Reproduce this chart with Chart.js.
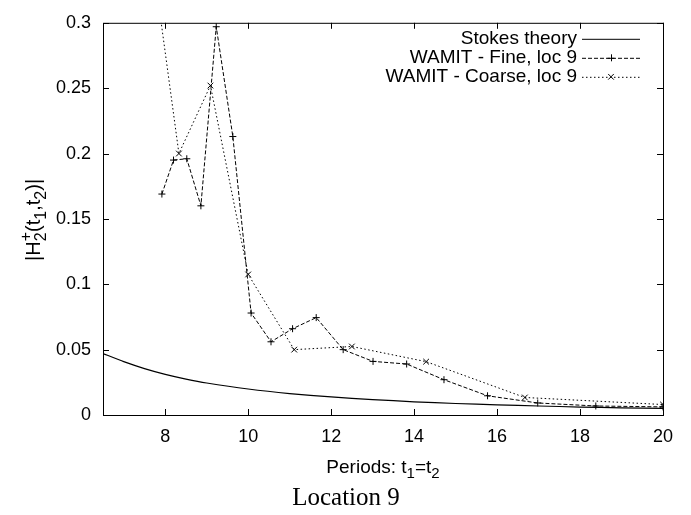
<!DOCTYPE html>
<html>
<head>
<meta charset="utf-8">
<script src="https://cdn.jsdelivr.net/npm/chart.js@4.4.1/dist/chart.umd.min.js"></script>
<style>
    body { margin: 0; background: #fff; }
    canvas { display: block; }
</style>
</head>
<body>
<canvas id="chart" width="691" height="515"></canvas>
<script>
// Tick labels
const xTicks = [8, 10, 12, 14, 16, 18, 20];
const yTicks = [0, 0.05, 0.1, 0.15, 0.2, 0.25, 0.3];

// Stokes theory
const stokesPeriods = [6.5, 7, 7.5, 8, 8.5, 9, 10, 11, 12, 13, 14, 15, 16, 17, 18, 19, 20];
const stokesValues = [0.047, 0.0408, 0.0355, 0.0311, 0.0275, 0.0245, 0.0199, 0.0164, 0.0138,
    0.0118, 0.0101, 0.0088, 0.0078, 0.0069, 0.0061, 0.0055, 0.0050];

// WAMIT - Fine, loc 9
const finePeriods = [7.92, 8.20, 8.52, 8.86, 9.23, 9.63, 10.07, 10.55, 11.07, 11.64, 12.29,
    13.01, 13.82, 14.72, 15.77, 16.98, 18.38, 20.0];
const fineValues = [0.169, 0.195, 0.196, 0.160, 0.297, 0.213, 0.078, 0.056, 0.066, 0.0745,
    0.050, 0.041, 0.039, 0.027, 0.0147, 0.0092, 0.0069, 0.0062];

// WAMIT - Coarse, loc 9
const coarsePeriods = [7.69, 8.33, 9.09, 10.0, 11.11, 12.5, 14.29, 16.67, 20.0];
const coarseValues = [0.35, 0.200, 0.252, 0.1075, 0.050, 0.0524, 0.0408, 0.0134, 0.008];

const sans = 'Liberation Sans, Arial, Helvetica, sans-serif';

function toPoints(xs, ys) {
    return xs.map((x, i) => ({ x: x, y: ys[i] }));
}

// Draw text made of normal / sub / sup pieces, centred on (0,0) of the current transform
function drawRich(ctx, parts, size, scriptScale) {
    const small = Math.round(size * scriptScale);
    const widths = parts.map(p => {
        if (p.kind === 'n') {
            ctx.font = size + 'px ' + sans;
            return ctx.measureText(p.t).width;
        }
        ctx.font = small + 'px ' + sans;
        return Math.max(ctx.measureText(p.t).width, p.sup ? ctx.measureText(p.sup).width : 0);
    });
    const total = widths.reduce((a, b) => a + b, 0);
    let x = -total / 2;
    ctx.textBaseline = 'alphabetic';
    ctx.textAlign = 'left';
    const base = size * 0.36;
    parts.forEach((p, i) => {
        if (p.kind === 'n') {
            ctx.font = size + 'px ' + sans;
            ctx.fillText(p.t, x, base);
        } else {
            ctx.font = small + 'px ' + sans;
            ctx.fillText(p.t, x, base + size * 0.28);
            if (p.sup) ctx.fillText(p.sup, x, base - size * 0.45);
        }
        x += widths[i];
    });
}

// Border box and inward ticks on all four sides, like gnuplot
const framePlugin = {
    id: 'frame',
    afterDatasetsDraw(chart) {
        const ctx = chart.ctx;
        const a = chart.chartArea;
        const xs = chart.scales.x;
        const ys = chart.scales.y;
        const len = 6;
        ctx.save();
        ctx.strokeStyle = '#000';
        ctx.lineWidth = 1;
        ctx.setLineDash([]);
        ctx.strokeRect(a.left + 0.5, a.top + 0.5, a.right - a.left, a.bottom - a.top);
        ctx.beginPath();
        xTicks.forEach(v => {
            const px = Math.round(xs.getPixelForValue(v)) + 0.5;
            ctx.moveTo(px, a.bottom);
            ctx.lineTo(px, a.bottom - len);
            ctx.moveTo(px, a.top);
            ctx.lineTo(px, a.top + len);
        });
        yTicks.forEach(v => {
            const py = Math.round(ys.getPixelForValue(v)) + 0.5;
            ctx.moveTo(a.left, py);
            ctx.lineTo(a.left + len, py);
            ctx.moveTo(a.right, py);
            ctx.lineTo(a.right - len, py);
        });
        ctx.stroke();
        ctx.restore();
    }
};

// Key in the top right corner: text right-aligned, line sample to its right
const keyPlugin = {
    id: 'key',
    afterDraw(chart) {
        const ctx = chart.ctx;
        const a = chart.chartArea;
        const x1 = a.right - 81;
        const x2 = a.right - 23;
        ctx.save();
        chart.data.datasets.forEach((ds, i) => {
            const y = a.top + 16 + i * 19;
            ctx.fillStyle = '#000';
            ctx.font = '19px ' + sans;
            ctx.textAlign = 'right';
            ctx.textBaseline = 'middle';
            ctx.fillText(ds.label, x1 - 5, y);
            ctx.strokeStyle = '#000';
            ctx.lineWidth = 1;
            ctx.setLineDash(ds.borderDash || []);
            ctx.beginPath();
            ctx.moveTo(x1, y + 0.5);
            ctx.lineTo(x2, y + 0.5);
            ctx.stroke();
            ctx.setLineDash([]);
            const cx = (x1 + x2) / 2;
            const r = ds.pointRadius || 0;
            ctx.beginPath();
            if (ds.pointStyle === 'cross') {
                ctx.moveTo(cx - r, y + 0.5);
                ctx.lineTo(cx + r, y + 0.5);
                ctx.moveTo(cx + 0.5, y - r);
                ctx.lineTo(cx + 0.5, y + r);
            } else if (ds.pointStyle === 'crossRot') {
                const d = r * 0.707;
                ctx.moveTo(cx - d, y - d);
                ctx.lineTo(cx + d, y + d);
                ctx.moveTo(cx + d, y - d);
                ctx.lineTo(cx - d, y + d);
            }
            ctx.stroke();
        });
        ctx.restore();
    }
};

// Axis titles with sub/superscripts and the caption below
const titlesPlugin = {
    id: 'titles',
    afterDraw(chart) {
        const ctx = chart.ctx;
        const a = chart.chartArea;
        ctx.save();
        ctx.fillStyle = '#000';

        ctx.save();
        ctx.translate(33, (a.top + a.bottom) / 2 + 1);
        ctx.rotate(-Math.PI / 2);
        drawRich(ctx, [
            { kind: 'n', t: '|H' },
            { kind: 's', t: '2', sup: '+' },
            { kind: 'n', t: '(t' },
            { kind: 's', t: '1' },
            { kind: 'n', t: ',t' },
            { kind: 's', t: '2' },
            { kind: 'n', t: ')|' }
        ], 20, 0.82);
        ctx.restore();

        ctx.save();
        ctx.translate((a.left + a.right) / 2, 466);
        drawRich(ctx, [
            { kind: 'n', t: 'Periods: t' },
            { kind: 's', t: '1' },
            { kind: 'n', t: '=t' },
            { kind: 's', t: '2' }
        ], 19, 0.78);
        ctx.restore();

        ctx.font = '25px Liberation Serif, Times New Roman, serif';
        ctx.textAlign = 'center';
        ctx.textBaseline = 'middle';
        ctx.fillText('Location 9', 346, 498);
        ctx.restore();
    }
};

const ctx = document.getElementById('chart').getContext('2d');

new Chart(ctx, {
    type: 'line',
    data: {
        datasets: [
            {
                label: 'Stokes theory',
                data: toPoints(stokesPeriods, stokesValues),
                borderColor: '#000',
                borderWidth: 1.2,
                pointRadius: 0,
                tension: 0.2,
                fill: false
            },
            {
                label: 'WAMIT - Fine, loc 9',
                data: toPoints(finePeriods, fineValues),
                borderColor: '#000',
                borderWidth: 1,
                borderDash: [4, 2],
                pointStyle: 'cross',
                pointRadius: 3.5,
                pointBorderWidth: 1,
                pointBorderColor: '#000',
                fill: false
            },
            {
                label: 'WAMIT - Coarse, loc 9',
                data: toPoints(coarsePeriods, coarseValues),
                borderColor: '#000',
                borderWidth: 1,
                borderDash: [1.5, 2.5],
                pointStyle: 'crossRot',
                pointRadius: 4,
                pointBorderWidth: 1,
                pointBorderColor: '#000',
                fill: false
            }
        ]
    },
    options: {
        responsive: false,
        animation: false,
        events: [],
        layout: {
            padding: { left: 0, right: 28, top: 12, bottom: 0 }
        },
        scales: {
            x: {
                type: 'linear',
                min: 6.5,
                max: 20,
                afterBuildTicks: scale => {
                    scale.ticks = xTicks.map(v => ({ value: v }));
                },
                afterFit: scale => {
                    scale.height = 100;
                },
                grid: { display: false, drawTicks: false },
                border: { display: false },
                ticks: {
                    color: '#000',
                    padding: 11,
                    maxRotation: 0,
                    font: { family: sans, size: 18 },
                    callback: v => String(v)
                }
            },
            y: {
                type: 'linear',
                min: 0,
                max: 0.3,
                afterBuildTicks: scale => {
                    scale.ticks = yTicks.map(v => ({ value: v }));
                },
                afterFit: scale => {
                    scale.width = 103;
                },
                grid: { display: false, drawTicks: false },
                border: { display: false },
                ticks: {
                    color: '#000',
                    padding: 12,
                    font: { family: sans, size: 18 },
                    callback: v => String(v)
                }
            }
        },
        plugins: {
            legend: { display: false },
            tooltip: { enabled: false }
        }
    },
    plugins: [framePlugin, keyPlugin, titlesPlugin]
});
</script>
</body>
</html>
